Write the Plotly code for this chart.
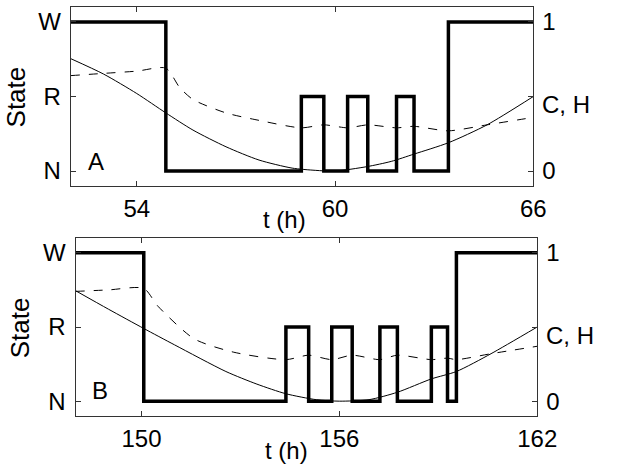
import plotly.graph_objects as go

W_PX, H_PX = 624, 473

# panel A: sleep state steps (N/R/W) and the two slow curves on the C, H axis
state_a_t = [52, 54.88, 58.98, 59.66, 60.38, 60.99, 61.86, 62.39, 63.43, 66]
state_a = ["W", "N", "R", "N", "R", "N", "R", "N", "W", "W"]

c_a_t = [52, 53, 54, 54.88, 55.7, 56.7, 57.7, 58.7, 59.4, 60.0, 60.97, 61.7, 62.39, 63.43, 64.6, 66]
c_a = [0.754, 0.65, 0.52, 0.39, 0.275, 0.163, 0.074, 0.02, 0.005, 0.0, 0.03, 0.065, 0.114, 0.19, 0.31, 0.50]

h_a_t = [52, 53, 54, 54.88, 55.3, 55.7, 56.7, 57.7, 58.98, 59.66, 60.38, 60.99, 61.86, 62.39, 63.43, 64.6, 66]
h_a = [0.64, 0.655, 0.67, 0.69, 0.56, 0.48, 0.39, 0.34, 0.29, 0.31, 0.29, 0.31, 0.29, 0.30, 0.27, 0.31, 0.36]

# panel B
state_b_t = [148, 150.07, 154.38, 155.07, 155.77, 156.39, 157.23, 157.76, 158.79, 159.28, 159.55, 162]
state_b = ["W", "N", "R", "N", "R", "N", "R", "N", "R", "N", "W", "W"]

c_b_t = [148, 149, 150.07, 151, 152.56, 153.5, 154.38, 155.3, 156.0, 156.9, 157.76, 158.79, 159.55, 160.6, 162]
c_b = [0.745, 0.62, 0.49, 0.38, 0.2, 0.115, 0.05, 0.01, 0.0, 0.01, 0.06, 0.15, 0.2, 0.32, 0.5]

h_b_t = [148, 149, 150.07, 150.5, 151.6, 152.8, 154.38, 155.07, 155.77, 156.39, 157.23, 157.76, 158.79, 159.28, 159.55, 160.6, 162]
h_b = [0.74, 0.75, 0.76, 0.64, 0.42, 0.33, 0.28, 0.31, 0.28, 0.31, 0.28, 0.31, 0.28, 0.29, 0.28, 0.32, 0.37]

state_levels = {"N": 0, "R": 0.5, "W": 1}
x_ticks_a = [54, 60, 66]
x_ticks_b = [150, 156, 162]

FONT = "Liberation Sans, Arial, sans-serif"
FS = 24
AX = "#333333"


def px_x(p):
    return p / W_PX


def px_y(p):
    return 1 - p / H_PX


fig = go.Figure()

panels = [
    ("x", "y", "y3", state_a_t, state_a, c_a_t, c_a, h_a_t, h_a),
    ("x2", "y2", "y4", state_b_t, state_b, c_b_t, c_b, h_b_t, h_b),
]
for xa, yl, yr, st_t, st, ct, cv, ht, hv in panels:
    fig.add_trace(go.Scatter(x=ht, y=hv, mode="lines", xaxis=xa, yaxis=yr,
                             line=dict(color="black", width=1, dash="dash", shape="spline", smoothing=0.7),
                             showlegend=False))
    fig.add_trace(go.Scatter(x=ct, y=cv, mode="lines", xaxis=xa, yaxis=yr,
                             line=dict(color="black", width=1, shape="spline", smoothing=0.7),
                             showlegend=False))
    fig.add_trace(go.Scatter(x=st_t, y=[state_levels[s] for s in st], mode="lines", xaxis=xa, yaxis=yl,
                             line=dict(color="black", width=3.5, shape="hv"),
                             showlegend=False))

xcommon = dict(showline=True, linecolor=AX, linewidth=1, mirror="ticks", ticks="inside",
               ticklen=5, tickcolor=AX, showgrid=False, zeroline=False,
               tickfont=dict(family=FONT, size=FS, color="black"), ticklabelstandoff=1)
ycommon = dict(range=[-0.1, 1.1], showgrid=False, zeroline=False,
               tickfont=dict(family=FONT, size=FS, color="black"))
yleft = dict(tickvals=[0, 0.5, 1], ticktext=["N", "R", "W"], showline=True, linecolor=AX,
             mirror="ticks", ticks="inside", ticklen=5, tickcolor=AX, ticklabelstandoff=4, **ycommon)
yright = dict(side="right", tickvals=[0, 1], ticktext=["0", "1"], ticks="", showline=False,
              ticklabelstandoff=8, **ycommon)

# width left to the page so the figure fills the window; positions are given as fractions of it
fig.update_layout(
    height=H_PX, autosize=True,
    margin=dict(l=0, r=0, t=0, b=0),
    paper_bgcolor="white", plot_bgcolor="white",
    xaxis=dict(domain=[px_x(73), px_x(551)], range=[52, 66], tickvals=x_ticks_a, anchor="y", **xcommon),
    xaxis2=dict(domain=[px_x(78), px_x(555)], range=[148, 162], tickvals=x_ticks_b, anchor="y2", **xcommon),
    yaxis=dict(domain=[px_y(186), px_y(7)], anchor="x", **yleft),
    yaxis2=dict(domain=[px_y(416), px_y(238)], anchor="x2", **yleft),
    yaxis3=dict(overlaying="y", anchor="x", **yright),
    yaxis4=dict(overlaying="y2", anchor="x2", **yright),
)

ann = dict(showarrow=False, xanchor="center", yanchor="middle",
           font=dict(family=FONT, size=FS, color="black"))
fig.add_annotation(text="t (h)", xref="paper", yref="paper", x=px_x(294), y=px_y(220), **ann)
fig.add_annotation(text="t (h)", xref="paper", yref="paper", x=px_x(296), y=px_y(450), **ann)
fig.add_annotation(text="State", xref="paper", yref="paper", x=px_x(17), y=px_y(97), textangle=-90,
                   showarrow=False, xanchor="center", yanchor="middle",
                   font=dict(family=FONT, size=26, color="black"))
fig.add_annotation(text="State", xref="paper", yref="paper", x=px_x(21), y=px_y(328), textangle=-90,
                   showarrow=False, xanchor="center", yanchor="middle",
                   font=dict(family=FONT, size=26, color="black"))
fig.add_annotation(text="C, H", xref="paper", yref="paper", x=px_x(585), y=px_y(104), **ann)
fig.add_annotation(text="C, H", xref="paper", yref="paper", x=px_x(589), y=px_y(335), **ann)
fig.add_annotation(text="A", xref="x", yref="y", x=52.77, y=0.065, **ann)
fig.add_annotation(text="B", xref="x2", yref="y2", x=148.74, y=0.07, **ann)

# drop the default body margin / scrollbars, then let plotly refit to the window width
fig.write_html("out.html", config={"displayModeBar": False},
               post_script="document.documentElement.style.overflow='hidden';"
                           "document.body.style.overflow='hidden';"
                           "document.body.style.margin='0px';"
                           "Plotly.Plots.resize(document.getElementById('{plot_id}'));")
